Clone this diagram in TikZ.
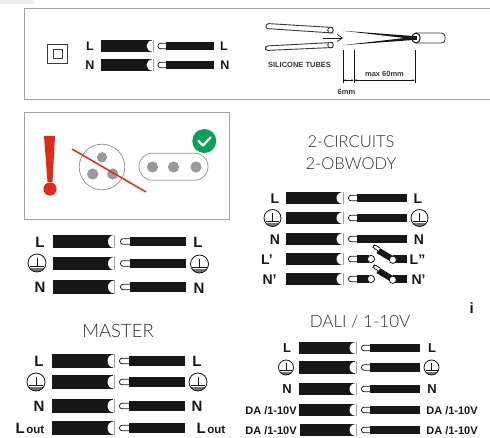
\documentclass[tikz,border=0pt]{standalone}
\usepackage{fontspec}
\usetikzlibrary{arrows.meta}
\setmainfont{Liberation Sans}
\newfontfamily\thinfont{Lato Light}
\definecolor{ink}{HTML}{161817}
\definecolor{framegray}{HTML}{A3A3A3}
\definecolor{warnred}{HTML}{E02B1C}
\definecolor{okgreen}{HTML}{0B9F58}
\definecolor{pingray}{HTML}{9A9A9A}
\tikzset{
  x=1pt,y=-1pt,
  lab/.style={font=\fontsize{#1}{#1}\selectfont\bfseries,text=ink,inner sep=0pt},
  lab/.default=15,
  titletext/.style={font=\thinfont\fontsize{#1}{#1}\selectfont,text=ink!90,inner sep=0pt},
  smalltext/.style={font=\fontsize{7.5}{8}\selectfont\bfseries,text=ink!85,inner sep=0pt},
  dimline/.style={draw=ink,line width=.7pt},
  dimarrow/.style={ink,line width=.4pt,{Stealth[length=2.2pt,width=2pt]}-{Stealth[length=2.2pt,width=2pt]}},
  tube/.style={draw=ink!85,line width=.9pt,fill=white},
}
% left wire with its notch: xL, xN, y, half-height
\newcommand{\leftwire}[4]{%
  \fill[ink] (#1,#3-#4) rectangle (#2-.6,#3+#4);
  \fill[white] (#2-.5,#3) ellipse[x radius=6,y radius=#4-.4];
  \fill[white] (#2-.6,#3-#4) rectangle (#2,#3+#4);
  \draw[framegray,line width=.5pt] (#2,#3-#4) -- (#2,#3+#4);
}
% lug: xs, xe, y
\newcommand{\lug}[3]{%
  \draw[ink,line width=.8pt,fill=white,rounded corners=2.6pt] (#2+1,#3-2.8) -- (#1,#3-2.8) -- (#1,#3+2.8) -- (#2+1,#3+2.8);
}
% full row: xL xN xlug xR0 xR1 y halfL halfR
\newcommand{\wirerow}[8]{%
  \leftwire{#1}{#2}{#6}{#7}
  \lug{#3}{#4}{#6}
  \fill[ink] (#4,#6-#8) rectangle (#5,#6+#8);
}
\newcommand{\earth}[3]{% x y r
  \begin{scope}[shift={(#1,#2)}]
    \begin{scope}
      \clip (0,0) circle[radius=#3];
      \fill[ink!60] (-#3,#3*.55) rectangle (#3,#3);
    \end{scope}
    \draw[ink,line width=.8pt] (0,0) circle[radius=#3];
    \draw[ink,line width=.8pt] (0,-#3*.6) -- (0,#3*.4);
    \draw[ink,line width=.8pt] (-#3*.8,#3*.42) -- (#3*.8,#3*.42);
  \end{scope}
}
\begin{document}
\begin{tikzpicture}
\path[use as bounding box] (0,0) rectangle (490,438);
\fill[white] (0,0) rectangle (490,438);
\fill[black!7] (0,0) rectangle (34,4);
% top frame
\draw[framegray,line width=.8pt] (491,8) -- (24.7,8) -- (24.7,99.5) -- (491,99.5);
\draw[ink!85,line width=1pt] (47.5,44.5) rectangle (67,64);
\draw[ink!85,line width=1pt] (53,50) rectangle (62,59);
\node[lab=12.5] (tl1) at (90,46.5) {L};
\node[lab=12.5] (tl2) at (90,65) {N};
\wirerow{101}{153}{158}{166}{214}{46}{6}{3.6}
\wirerow{101}{153}{158}{166}{214}{65}{6}{3.6}
\node[lab=12.5] (tr1) at (224,46.5) {L};
\node[lab=12.5] (tr2) at (225,65.5) {N};
% silicone tubes
\draw[tube,line cap=round,rounded corners=2.5pt] (333,27.5) -- (266.5,23.5) -- (265.5,28.5) -- (333,33) ;
\draw[tube] (330.5,30.2) ellipse[x radius=2.8,y radius=2.8];
\draw[tube,line cap=round,rounded corners=2.5pt] (333,42.5) -- (265.5,46) -- (265.5,50.5) -- (333,47.5);
\draw[tube] (330.5,45) ellipse[x radius=2.8,y radius=2.8];
\draw[ink,line width=.7pt,-{Straight Barb[length=5pt,width=7pt]}] (323,38) -- (343,38);
\fill[ink] (343,30.8) -- (413,36) -- (413,39) -- cycle;
\fill[ink] (343,45.2) -- (413,37) -- (413,40) -- cycle;
\draw[tube,rounded corners=3.5pt] (416,33) -- (445,33) -- (445,43) -- (416,43);
\draw[ink,line width=1pt] (416,38) ellipse[x radius=4.2,y radius=5];
\fill[ink] (410,36) rectangle (417,40);
\draw[dimline] (343,50) -- (343,83.5);
\draw[dimline] (354,50) -- (354,83.5);
\draw[dimline] (415,50) -- (415,83.5);
\draw[dimarrow] (343.5,80.3) -- (353.5,80.3);
\draw[dimarrow] (354.5,80.3) -- (414.5,80.3);
\node[smalltext] (sil) at (299.5,65) {SILICONE TUBES};
\node[smalltext] (six) at (346.5,91.5) {6mm};
\node[smalltext] (max) at (384.5,74) {max 60mm};
% warning frame
\draw[framegray,line width=.8pt] (24.3,112.3) rectangle (229.5,219.3);
\fill[warnred] (44,136) -- (55,136) -- (52.5,182) -- (47.5,182) -- cycle;
\fill[warnred] (50,189) circle[radius=6.6];
\draw[pingray,line width=.8pt] (102,167) circle[radius=22.8];
\fill[pingray] (102,157.3) circle[radius=5.2];
\fill[pingray] (92.7,174) circle[radius=5.6];
\fill[pingray] (112.7,174) circle[radius=5.6];
\draw[warnred,line width=1.5pt] (72,149) -- (146,192);
\draw[pingray,line width=.8pt,rounded corners=13.3pt] (139,153.2) rectangle (208,180.2);
\fill[pingray] (152.5,167) circle[radius=5.6];
\fill[pingray] (173.5,167) circle[radius=5.6];
\fill[pingray] (196,167) circle[radius=5.6];
\fill[okgreen] (204.3,141) circle[radius=12];
\draw[white,line width=2.2pt,line cap=round,line join=round] (198.5,141) -- (203,145.5) -- (210.5,137.5);
% block A
\node[lab] (al) at (40,242) {L};
\earth{37}{263}{9}
\node[lab] (an) at (40,287.5) {N};
\wirerow{53}{114.5}{120.5}{130}{186}{241.5}{6.8}{4.6}
\wirerow{53}{114.5}{120.5}{130}{186}{263.5}{6.8}{4.6}
\wirerow{53}{114.5}{120.5}{130}{186}{287}{6.8}{4.6}
\node[lab] (ar) at (198,242.5) {L};
\earth{199.5}{264}{9}
\node[lab] (ars) at (199,288.5) {N};
% 2 circuits
\node[titletext=16.5] (t1) at (351,142) {2-CIRCUITS};
\node[titletext=16.5] (t2) at (351,164) {2-OBWODY};
\node[lab=14] (cl1) at (275,198.5) {L};
\earth{272.5}{218}{8.5}
\node[lab=14] (cl3) at (275,239.5) {N};
\node[lab=14] (cl4) at (267,259.5) {L’};
\node[lab=14] (cl5) at (269.5,279.5) {N’};
\wirerow{286}{343}{348.5}{357}{407}{198}{6.2}{4.2}
\wirerow{286}{343}{348.5}{357}{407}{218}{6.2}{4.2}
\wirerow{286}{343}{348.5}{357}{407}{239}{6.2}{4.2}
\leftwire{286}{343}{259}{6.2}
\leftwire{286}{343}{279}{6.2}
\lug{348.5}{357}{259}
\lug{348.5}{357}{279}
\fill[ink] (357,255) rectangle (369,263);
\fill[ink] (357,275) rectangle (369,283);
\draw[ink,line width=.8pt,fill=white] (371,259) circle[radius=3.6];
\draw[ink,line width=.8pt,fill=white] (371,279) circle[radius=3.6];
\fill[ink] (393,255) rectangle (407,263);
\fill[ink] (393,275) rectangle (407,283);
\draw[ink,line width=6pt] (378,250.5) -- (393,259.5);
\draw[ink,line width=6pt] (378,270.5) -- (393,279.5);
\draw[ink,line width=.8pt,fill=white,rounded corners=2pt] (380,248) -- (374.5,244.5) -- (372.8,247.5) -- (378.5,251);
\draw[ink,line width=.8pt,fill=white,rounded corners=2pt] (380,268) -- (374.5,264.5) -- (372.8,267.5) -- (378.5,271);
\draw[ink,line width=.8pt,fill=white] (392.8,259.8) circle[radius=3.6];
\draw[ink,line width=.8pt,fill=white] (392.8,279.8) circle[radius=3.6];
\node[lab=14] (cr1) at (418,198.5) {L};
\earth{419.5}{218}{8.5}
\node[lab=14] (cr3) at (419,240) {N};
\node[lab=14] (cr4) at (417.5,259.5) {L”};
\node[lab=14] (cr5) at (418.5,280) {N’};
% stray i
\node[lab=15] (ii) at (471.6,308) {i};
% MASTER
\node[titletext=18.5] (tm) at (118,331) {MASTER};
\node[lab] (ml1) at (39,361) {L};
\earth{36}{382}{9}
\node[lab] (ml3) at (39,406) {N};
\node[inner sep=0pt,text=ink,font=\bfseries] (ml5) at (30,428) {\fontsize{15}{15}\selectfont L\hspace{1.5pt}\fontsize{11.5}{12}\selectfont out};
\wirerow{52}{114}{119.5}{129}{185}{361}{6.8}{4.6}
\wirerow{52}{114}{119.5}{129}{185}{382}{6.8}{4.6}
\wirerow{52}{114}{119.5}{129}{185}{406}{6.8}{4.6}
\wirerow{52}{114}{119.5}{129}{185}{428}{6.8}{4.6}
\node[lab] (mr1) at (197,361) {L};
\earth{198}{382}{9}
\node[lab] (mr3) at (197,406) {N};
\node[inner sep=0pt,text=ink,font=\bfseries] (mr4) at (211,428) {\fontsize{15}{15}\selectfont L\hspace{1.5pt}\fontsize{11.5}{12}\selectfont out};
% DALI
\node[titletext=17] (td) at (360,322) {DALI / 1-10V};
\node[lab=13] (dl1) at (287,348.5) {L};
\earth{286}{367.5}{7.5}
\node[lab=13] (dl3) at (287,389.5) {N};
\node[lab=11] (dl4) at (271,410.5) {DA /1-10V};
\node[lab=11] (dl5) at (271,430.5) {DA /1-10V};
\wirerow{299}{356}{361.5}{370}{420}{348}{6.2}{4.2}
\wirerow{299}{356}{361.5}{370}{420}{367.5}{6.2}{4.2}
\wirerow{299}{356}{361.5}{370}{420}{389}{6.2}{4.2}
\wirerow{299}{356}{361.5}{370}{420}{410}{6.2}{4.2}
\wirerow{300}{356}{361.5}{370}{420}{430}{6.2}{4.2}
\node[lab=13] (dr1) at (432,348.5) {L};
\earth{431.5}{367.5}{7.5}
\node[lab=13] (dr3) at (432,389.5) {N};
\node[lab=11] (dr4) at (452,410.5) {DA /1-10V};
\node[lab=11] (dr5) at (452,430.5) {DA /1-10V};
\end{tikzpicture}
\end{document}
